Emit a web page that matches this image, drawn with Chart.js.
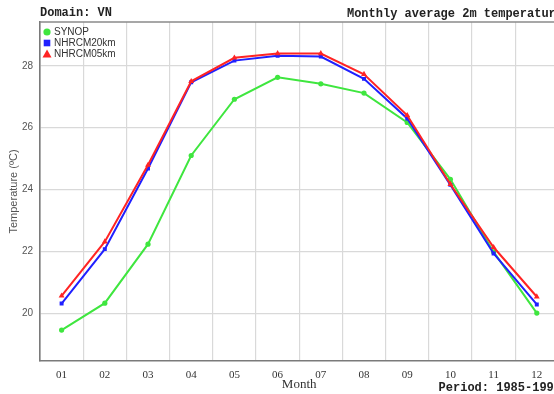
<!DOCTYPE html>
<html>
<head>
<meta charset="utf-8">
<script src="https://cdn.jsdelivr.net/npm/chart.js@4"></script>
<style>
  html, body { margin: 0; padding: 0; background: #fff; overflow: hidden; }
  #wrap { width: 570px; height: 394px; }
</style>
</head>
<body>
<div id="wrap"><canvas id="tempChart" width="570" height="394"></canvas></div>
<script>
const months = ['01', '02', '03', '04', '05', '06', '07', '08', '09', '10', '11', '12'];
const synop = [19.45, 20.32, 22.23, 25.10, 26.92, 27.63, 27.42, 27.12, 26.17, 24.33, 21.98, 20.00];
const nhrcm20 = [20.31, 22.07, 24.68, 27.47, 28.17, 28.33, 28.30, 27.58, 26.30, 24.15, 21.93, 20.28];
const nhrcm05 = [20.56, 22.31, 24.79, 27.50, 28.26, 28.40, 28.40, 27.73, 26.40, 24.17, 22.13, 20.53];
const yTicks = [20, 22, 24, 26, 28];

const GREEN = '#3fe63f';
const BLUE = '#2020ff';
const RED = '#ff2424';
const mono = '"Liberation Mono", "DejaVu Sans Mono", monospace';

// frame, header/footer texts and the in-plot legend
const decorPlugin = {
  id: 'decor',
  afterDraw(chart) {
    const { ctx, chartArea: a } = chart;
    ctx.save();
    ctx.strokeStyle = '#8a8a8a';
    ctx.lineWidth = 1.5;
    ctx.beginPath();
    ctx.moveTo(a.left, a.top);
    ctx.lineTo(a.right, a.top);
    ctx.lineTo(a.right, a.bottom);
    ctx.stroke();

    ctx.fillStyle = '#222';
    ctx.font = 'bold 12px ' + mono;
    ctx.textBaseline = 'middle';
    ctx.textAlign = 'left';
    ctx.fillText('Domain: VN', 40, 13);
    ctx.textAlign = 'right';
    ctx.fillText('Monthly average 2m temperature', 563, 14);
    ctx.fillText('Period: 1985-1995', 561, 388);

    const items = [
      { text: 'SYNOP', color: GREEN, shape: 'circle' },
      { text: 'NHRCM20km', color: BLUE, shape: 'rect' },
      { text: 'NHRCM05km', color: RED, shape: 'triangle' }
    ];
    ctx.font = '10px "Liberation Sans", Arial, sans-serif';
    ctx.textAlign = 'left';
    items.forEach((it, i) => {
      const x = a.left + 7, y = a.top + 10 + i * 11;
      ctx.fillStyle = it.color;
      ctx.beginPath();
      if (it.shape === 'circle') {
        ctx.arc(x, y, 3.6, 0, Math.PI * 2);
      } else if (it.shape === 'rect') {
        ctx.rect(x - 3.3, y - 3.3, 6.6, 6.6);
      } else {
        ctx.moveTo(x, y - 4.5);
        ctx.lineTo(x + 4.5, y + 3.5);
        ctx.lineTo(x - 4.5, y + 3.5);
        ctx.closePath();
      }
      ctx.fill();
      ctx.fillStyle = '#333';
      ctx.fillText(it.text, x + 7, y + 0.5);
    });
    ctx.restore();
  }
};

function series(label, data, color, style, radius, order) {
  return {
    label, data, order,
    borderColor: color,
    backgroundColor: color,
    borderWidth: 2,
    pointStyle: style,
    pointRadius: radius,
    pointBorderWidth: 0,
    tension: 0
  };
}

new Chart(document.getElementById('tempChart'), {
  type: 'line',
  data: {
    labels: months,
    datasets: [
      series('SYNOP', synop, GREEN, 'circle', 2.6, 2),
      series('NHRCM20km', nhrcm20, BLUE, 'rect', 2.8, 1),
      series('NHRCM05km', nhrcm05, RED, 'triangle', 3.4, 0)
    ]
  },
  options: {
    responsive: false,
    animation: false,
    layout: { padding: { top: 22, right: 11.6, bottom: 0, left: 0 } },
    plugins: { legend: { display: false }, tooltip: { enabled: false } },
    scales: {
      x: {
        offset: true,
        grid: { offset: true, color: '#d9d9d9', lineWidth: 1.2, drawTicks: false },
        border: { color: '#7a7a7a', width: 1.6 },
        ticks: { padding: 8, color: '#333', font: { family: '"Liberation Serif", "Times New Roman", serif', size: 11 } },
        title: { display: true, text: 'Month', color: '#333', padding: { top: 0, bottom: 2 },
                 font: { family: '"Liberation Serif", "Times New Roman", serif', size: 13 } },
        afterFit(scale) { scale.height = 33; }
      },
      y: {
        min: 18.45,
        max: 29.42,
        afterBuildTicks(scale) { scale.ticks = yTicks.map(v => ({ value: v })); },
        grid: { color: '#d9d9d9', lineWidth: 1.2, drawTicks: false },
        border: { color: '#7a7a7a', width: 1.6 },
        ticks: { padding: 7, color: '#555', font: { family: '"Liberation Sans", Arial, sans-serif', size: 10 } },
        title: { display: true, text: 'Temperature (ºC)', color: '#555', padding: { top: 7, bottom: 0 },
                 font: { family: '"Liberation Sans", Arial, sans-serif', size: 11 } },
        afterFit(scale) { scale.width = 40; }
      }
    }
  },
  plugins: [decorPlugin]
});
</script>
</body>
</html>
